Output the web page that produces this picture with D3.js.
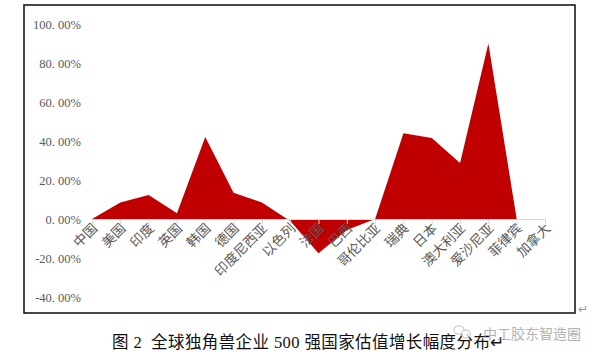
<!DOCTYPE html>
<html><head><meta charset="utf-8">
<script src="https://cdn.jsdelivr.net/npm/d3@7"></script>
<style>body{margin:0;background:#fff}svg{display:block}</style>
</head><body>
<svg id="c" width="600" height="360"></svg>
<script>
const categories = ["中国","美国","印度","英国","韩国","德国","印度尼西亚","以色列","法国","巴西","哥伦比亚","瑞典","日本","澳大利亚","爱沙尼亚","菲律宾","加拿大"];
const growth = [0, 8.5, 12.3, 2.9, 42, 13.5, 8.4, -1, -17.6, -5.6, 0, 44, 41.5, 28.7, 90, 0, 0];
const yTicks = [-40, -20, 0, 20, 40, 60, 80, 100];
const caption = "图 2  全球独角兽企业 500 强国家估值增长幅度分布";
const watermark = "中工胶东智造圈";

const svg = d3.select("#c");
const serif = "'Liberation Serif','Noto Sans CJK SC',serif";
const x = d3.scalePoint().domain(categories).range([92, 545]);
const y = d3.scaleLinear().domain([-40, 100]).range([297, 24]);

// frame
svg.append("rect").attr("x", 24).attr("y", 5).attr("width", 551).attr("height", 308)
  .attr("fill", "none").attr("stroke", "#1a1a1a").attr("stroke-width", 1.6);

// area
const area = d3.area().x((d, i) => x(categories[i])).y0(y(0)).y1(d => y(d));
svg.append("path").datum(growth).attr("d", area).attr("fill", "#c00000");

// y axis labels
const yAxis = d3.axisLeft(y).tickValues(yTicks).tickSize(0).tickPadding(0)
  .tickFormat(d => d.toFixed(2).replace(".", ". ") + "%");
const gy = svg.append("g").attr("transform", "translate(81,0)").call(yAxis);
gy.select(".domain").remove();
gy.selectAll("text").attr("fill", "#595959").attr("font-size", 12.5).attr("font-family", serif)
  .style("white-space", "pre");

// x axis
const xAxis = d3.axisBottom(x).tickSize(5).tickSizeOuter(0).tickFormat("");
const gx = svg.append("g").attr("transform", `translate(0,${y(0)})`).call(xAxis);
gx.select(".domain").attr("stroke", "#d9d9d9");
gx.selectAll(".tick line").attr("stroke", "#d9d9d9");
svg.append("g").selectAll("text").data(categories).join("text")
  .attr("transform", d => `translate(${x(d) + 4},${y(0) + 8}) rotate(-45)`)
  .attr("text-anchor", "end").attr("dominant-baseline", "middle")
  .attr("fill", "#595959").attr("font-size", 13.5).attr("font-family", serif)
  .text(d => d);

// return mark right of frame
svg.append("text").attr("x", 578).attr("y", 313).attr("font-size", 12).attr("fill", "#999")
  .attr("font-family", "'DejaVu Sans'").text("↵");

// caption
svg.append("text").attr("x", 112).attr("y", 348).attr("font-size", 16.5).attr("fill", "#111")
  .attr("letter-spacing", 0.4).style("white-space", "pre")
  .attr("font-family", serif).text(caption + "↵");

// watermark
const wm = svg.append("g").attr("opacity", 0.75);
wm.append("ellipse").attr("cx", 459).attr("cy", 330).attr("rx", 5).attr("ry", 4.2)
  .attr("fill", "none").attr("stroke", "#bbb").attr("stroke-width", 1.2);
wm.append("ellipse").attr("cx", 466).attr("cy", 334).attr("rx", 4.5).attr("ry", 3.8)
  .attr("fill", "#fff").attr("stroke", "#bbb").attr("stroke-width", 1.2);
wm.append("text").attr("x", 483).attr("y", 339).attr("font-size", 14).attr("fill", "#999")
  .attr("font-family", "'Noto Sans CJK SC',sans-serif").text(watermark);
</script>
</body></html>
